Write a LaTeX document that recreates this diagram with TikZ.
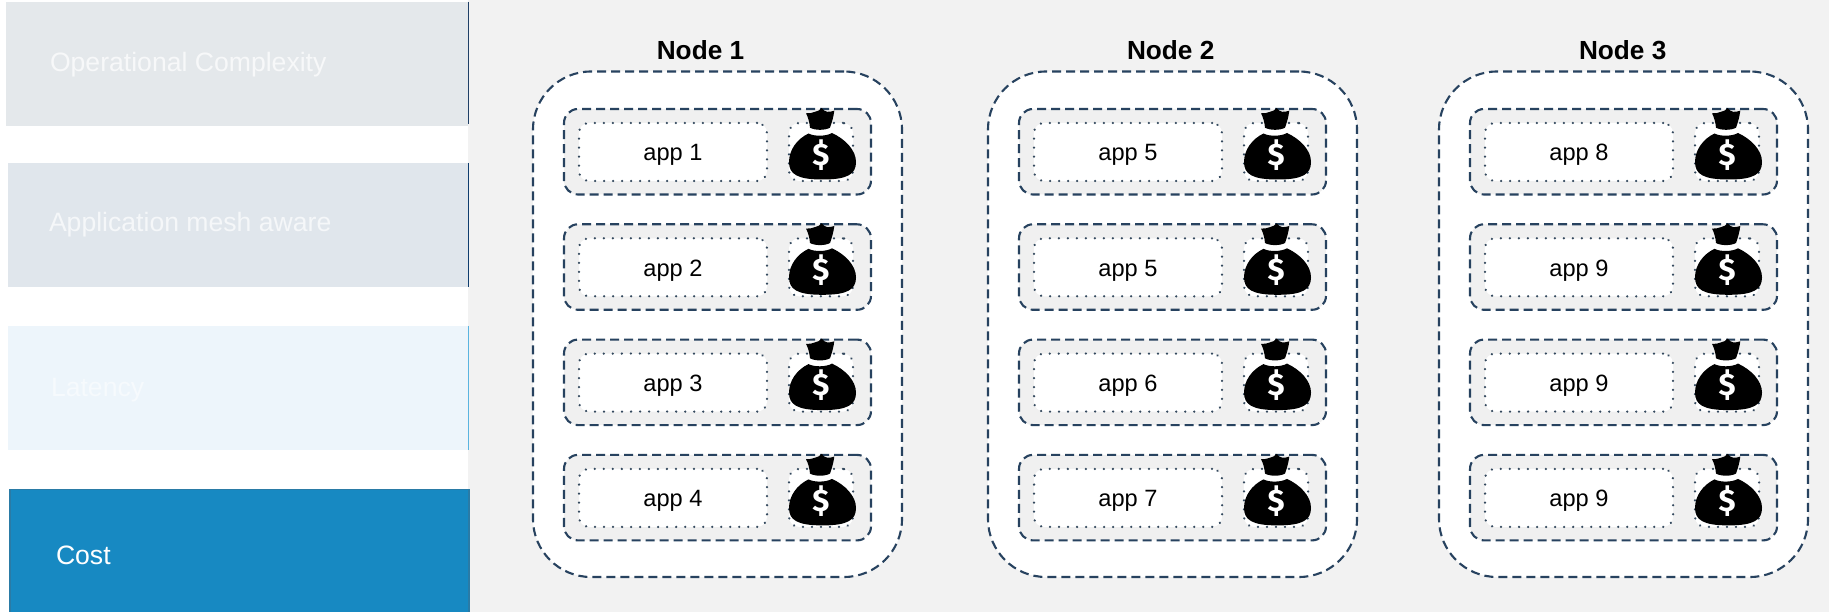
\documentclass[tikz,border=0pt]{standalone}
\usepackage{fontspec}
\setmainfont{Liberation Sans}
\newfontfamily\bagfont{Fira Sans}
\definecolor{pagebg}{HTML}{F2F2F2}
\definecolor{rowbg}{HTML}{F0F0F0}
\definecolor{dashc}{HTML}{27425F}
\definecolor{dotc}{HTML}{34495E}
\definecolor{boxa}{HTML}{E4E8EB}
\definecolor{boxb}{HTML}{E0E6EC}
\definecolor{boxc}{HTML}{EDF5FB}
\definecolor{boxd}{HTML}{1789C2}
\definecolor{boxdedge}{HTML}{2A7BA6}
\definecolor{edgea}{HTML}{1F3F66}
\definecolor{edgeb}{HTML}{0F3D6E}
\definecolor{edgec}{HTML}{5AB4E0}
\definecolor{txta}{HTML}{F7F8F9}
\definecolor{txtb}{HTML}{F5F7F9}
\definecolor{txtc}{HTML}{F6FAFD}
\definecolor{specdot}{HTML}{D050A0}
\tikzset{
  x=1pt,y=-1pt,
  every node/.style={inner sep=0pt,outer sep=0pt},
  sidebox/.style={anchor=north west,minimum width=#1,minimum height=124},
  sidelabel/.style={anchor=base west,font=\fontsize{26.6}{32}\selectfont},
  hostbox/.style={anchor=north west,draw=dashc,fill=white,line width=2.1pt,
    dash pattern=on 9pt off 5pt,rounded corners=58pt,minimum width=369,minimum height=505.5},
  rowbox/.style={anchor=north west,draw=dashc,fill=rowbg,line width=2.1pt,
    dash pattern=on 9pt off 5pt,rounded corners=14pt,minimum width=307,minimum height=85.5},
  appbox/.style={anchor=north west,draw=dotc,fill=white,line width=2.5pt,line cap=round,
    dash pattern=on 0.01pt off 9pt,rounded corners=10pt,minimum width=188,minimum height=58,
    font=\fontsize{23.6}{28}\selectfont,text height=17.5pt,text depth=0pt},
  feebox/.style={anchor=north west,draw=dotc,fill=white,line width=2.5pt,line cap=round,
    dash pattern=on 0.01pt off 9pt,rounded corners=10pt,minimum width=64,minimum height=58},
  hostlabel/.style={anchor=base,font=\bfseries\fontsize{26.2}{31}\selectfont},
  moneybag/.pic={
    \fill[black] (32.7,-1) .. controls (34,1) and (36,2.5) .. (38.3,2.8)
      .. controls (40.5,3) and (43,2.5) .. (45.3,1.7)
      .. controls (44.5,8) and (43,13) .. (41,18.7)
      .. controls (36,21.5) and (26,21.5) .. (21,18.7)
      .. controls (20.5,13) and (19,8) .. (17,4.3)
      .. controls (20,4.5) and (23.5,4) .. (26,2.8)
      .. controls (28.5,2.5) and (31,1) .. (32.7,-1) -- cycle;
    \fill[black] (19.5,24.5) .. controls (25,27.5) and (37,27.5) .. (43,24)
      .. controls (56,30) and (67,41) .. (67,53)
      .. controls (67,65) and (59,70.5) .. (33.5,70.5)
      .. controls (8,70.5) and (0,65) .. (0,53)
      .. controls (0,41) and (8,30) .. (19.5,24.5) -- cycle;
    \fill[specdot] (32,59.6) circle (0.9);
    \node[text=white,font=\bagfont\bfseries\fontsize{31}{36}\selectfont] (-dollar) at (32,46) {\$};
  }
}
\begin{document}
\begin{tikzpicture}
\useasboundingbox (0,0) rectangle (1829,612);
\fill[pagebg] (0,0) rectangle (1829,612);
\fill[white] (0,0) rectangle (468,612);

\node[sidebox=462,fill=boxa] (sideA) at (6,2) {};
\node[sidebox=460,fill=boxb] (sideB) at (8,163) {};
\node[sidebox=460,fill=boxc] (sideC) at (8,326) {};
\fill[boxd] (10,489) rectangle (469,612);
\draw[boxdedge,line width=1.5pt] (10,613) -- (10,489.5) -- (469,489.5) -- (469,613);
\draw[edgea,line width=1pt] (468,2) -- (468,124);
\draw[edgeb,line width=1pt] (468,163) -- (468,287);
\draw[edgec,line width=1pt] (468,326) -- (468,450);

\node[sidelabel,text=txta] (labA) at (50,72) {Operational Complexity};
\node[sidelabel,text=txtb] (labB) at (49,232) {Application mesh aware};
\node[sidelabel,text=txtc] (labC) at (51,396) {Latency};
\node[sidelabel,text=white] (labD) at (56,564) {Cost};

\foreach \n/\dx/\tx/\a/\b/\c/\d in {1/0/700.5/1/2/3/4, 2/455/1170.7/5/5/6/7, 3/906/1622.7/8/9/9/9}{
  \node[hostlabel] (title\n) at (\tx,60) {Node \n};
  \begin{scope}[xshift=\dx]
    \node[hostbox] (host\n) at (533,71.5) {};
    \foreach \r/\txt in {0/\a,1/\b,2/\c,3/\d}{
      \pgfmathsetmacro{\ry}{109+115.3*\r}
      \node[rowbox] (row\n-\r) at (564,\ry) {};
      \node[appbox] (app\n-\r) at (579,\ry+14) {app \txt};
      \node[feebox] (fee\n-\r) at (789,\ry+14) {};
      \pic (bag\n-\r) at (789,\ry) {moneybag};
    }
  \end{scope}
}
\end{tikzpicture}
\end{document}
